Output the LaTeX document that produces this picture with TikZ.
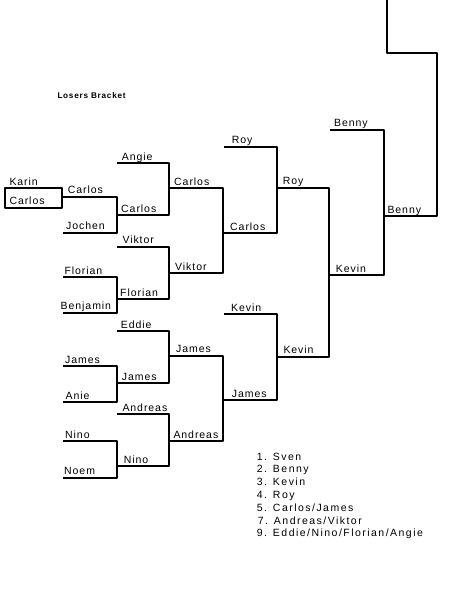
\documentclass[tikz,border=0pt]{standalone}
\usepackage{fontspec}
\setmainfont{Liberation Sans}
\newfontfamily\labfont[LetterSpace=9]{Liberation Sans}
\newfontfamily\legfont[LetterSpace=14]{Liberation Sans}
\newfontfamily\ttlfont[LetterSpace=9]{Liberation Sans}
\newcommand\slot[6]{%
  \coordinate (#1a) at (#2,#4);
  \coordinate (#1b) at (#3,#4);
  \node[lab] (#1) at (#5,#4-3) {#6};
}
\newcommand\match[2]{%
  \draw[bl] (#1a) -- (#1b) -- (#2b) -- (#2a);
}
\begin{document}
\begin{tikzpicture}[x=1pt,y=-1pt,
  bl/.style={line width=2pt, line join=round},
  lab/.style={anchor=base west, inner sep=0pt, font=\labfont\fontsize{10.5}{12}\selectfont},
  leg/.style={anchor=base west, inner sep=0pt, font=\legfont\fontsize{10.5}{12}\selectfont},
  ttl/.style={anchor=base west, inner sep=0pt, font=\ttlfont\bfseries\fontsize{8.2}{10}\selectfont}]
\useasboundingbox (0,0) rectangle (467,604);
\node[ttl] (title) at (57.3,98.7) {Losers Bracket};
% round 0
\slot{karin}{4.7}{62}{188}{9.3}{Karin}
\slot{carlosA}{4.7}{62}{207.7}{9.3}{Carlos}
% round 1
\slot{carlosB}{62}{116.7}{196.7}{67.7}{Carlos}
\slot{jochen}{63.3}{116.7}{232.7}{66}{Jochen}
\slot{florianA}{63.3}{116.7}{277.3}{64.3}{Florian}
\slot{benjamin}{63.3}{116.7}{312.7}{60.5}{Benjamin}
\slot{jamesA}{63.3}{116.7}{366}{65}{James}
\slot{anie}{63.3}{116.7}{402.3}{65.5}{Anie}
\slot{ninoA}{63.3}{116.7}{441}{65}{Nino}
\slot{noem}{63.3}{116.7}{477.7}{64}{Noem}
% round 2
\slot{angie}{117}{169.3}{163.3}{121.7}{Angie}
\slot{carlosC}{116.7}{169.3}{215}{121}{Carlos}
\slot{viktorA}{117}{169.3}{246.7}{122.3}{Viktor}
\slot{florianB}{116.7}{169.3}{299}{120}{Florian}
\slot{eddie}{117}{169.3}{331}{120.7}{Eddie}
\slot{jamesB}{116.7}{169.3}{383.3}{121.7}{James}
\slot{andreasA}{117}{169.3}{414.3}{122.3}{Andreas}
\slot{ninoB}{116.7}{169.3}{466}{123.7}{Nino}
% round 3
\slot{carlosD}{169.3}{223.3}{188.3}{174}{Carlos}
\slot{viktorB}{169.3}{223.3}{273.3}{175}{Viktor}
\slot{jamesC}{169.3}{223.3}{355.7}{176}{James}
\slot{andreasB}{169.3}{223.3}{441}{173.3}{Andreas}
% round 4
\slot{royA}{224.3}{276.7}{146.7}{231.7}{Roy}
\slot{carlosE}{223.3}{276.7}{233.3}{230}{Carlos}
\slot{kevinA}{224.3}{276.7}{314}{231}{Kevin}
\slot{jamesD}{223.3}{276.7}{400}{231.7}{James}
% round 5
\slot{royB}{276.7}{329.3}{187.7}{282.7}{Roy}
\slot{kevinB}{276.7}{329.3}{356.7}{283.3}{Kevin}
% round 6
\slot{bennyA}{330}{384.3}{130}{334}{Benny}
\slot{kevinC}{329.3}{384.3}{275}{335.7}{Kevin}
% round 7
\slot{bennyB}{384.3}{436.7}{216}{387.3}{Benny}
\coordinate (up1) at (436.7,53.3);
\coordinate (up2) at (387.3,53.3);
\coordinate (up3) at (387.3,0);
% brackets
\draw[bl] (karina) -- (karinb) -- (carlosAb) -- (carlosAa) -- cycle;
\match{carlosB}{jochen}
\match{florianA}{benjamin}
\match{jamesA}{anie}
\match{ninoA}{noem}
\match{angie}{carlosC}
\match{viktorA}{florianB}
\match{eddie}{jamesB}
\match{andreasA}{ninoB}
\match{carlosD}{viktorB}
\match{jamesC}{andreasB}
\match{royA}{carlosE}
\match{kevinA}{jamesD}
\match{royB}{kevinB}
\match{bennyA}{kevinC}
\draw[bl] (bennyBa) -- (bennyBb) -- (up1) -- (up2) -- (up3);
% legend
\node[leg] (l1) at (256.7,460) {1. Sven};
\node[leg] (l2) at (256.7,472.8) {2. Benny};
\node[leg] (l3) at (256.7,485.6) {3. Kevin};
\node[leg] (l4) at (256.7,498.4) {4. Roy};
\node[leg] (l5) at (256.7,511.2) {5. Carlos/James};
\node[leg] (l7) at (257.7,524) {7. Andreas/Viktor};
\node[leg] (l9) at (256.7,536.8) {9. Eddie/Nino/Florian/Angie};
\end{tikzpicture}
\end{document}
